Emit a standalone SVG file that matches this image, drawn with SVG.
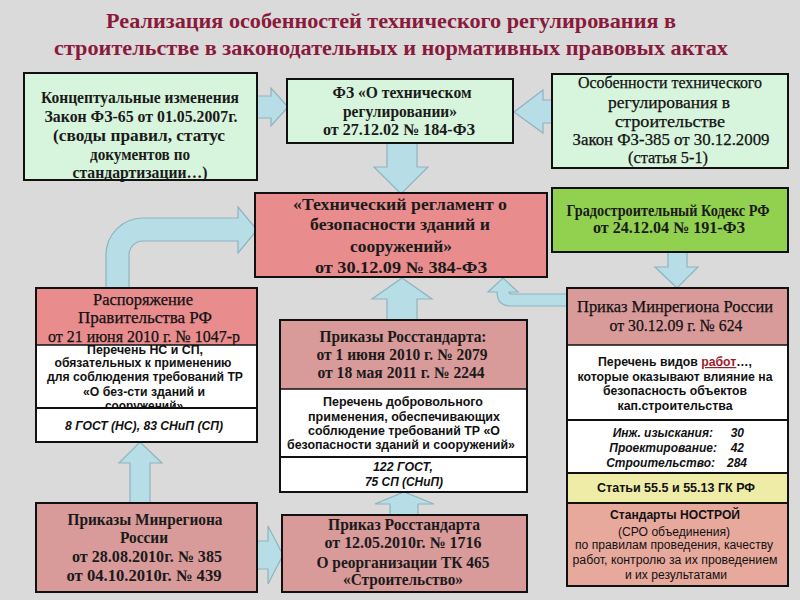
<svg xmlns="http://www.w3.org/2000/svg" width="800" height="600" viewBox="0 0 800 600">
<defs>
<style>
.bg{fill:#dadada}
.box{stroke:#111;stroke-width:2}
.arrow{fill:#b7dde6;stroke:#8fb3bf;stroke-width:1.2}
.mint{fill:#d7f4dc}
.pink{fill:#e88c8e}
.rose{fill:#d99a9a}
.green{fill:#92d050}
.white{fill:#ffffff}
.yellow{fill:#eeeca6}
.salmon{fill:#e8a99d}
.title{font-family:"Liberation Serif",serif;font-weight:bold;font-size:21px;fill:#8a1a3c;text-anchor:middle}
.sb{font-family:"Liberation Serif",serif;font-weight:bold;font-size:16px;fill:#1a1a1a;text-anchor:middle}
.sr{font-family:"Liberation Serif",serif;font-size:17px;fill:#111;stroke:#111;stroke-width:0.25;text-anchor:middle}
.nb{font-family:"Liberation Sans",sans-serif;font-weight:bold;font-size:12px;fill:#111;text-anchor:middle}
.ni{font-family:"Liberation Sans",sans-serif;font-weight:bold;font-style:italic;font-size:12px;fill:#111;text-anchor:middle}
.nr{font-family:"Liberation Sans",sans-serif;font-size:12px;fill:#111;text-anchor:middle}
</style>
<clipPath id="clipLH"><rect x="36" y="288" width="221" height="57"/></clipPath>
<clipPath id="clipLW"><rect x="36" y="345" width="221" height="63"/></clipPath>
</defs>
<rect class="bg" x="0" y="0" width="800" height="600"/>

<g id="title">
<text class="title" x="391" y="28" textLength="570" lengthAdjust="spacingAndGlyphs">Реализация особенностей технического регулирования в</text>
<text class="title" x="391" y="55" textLength="674" lengthAdjust="spacingAndGlyphs">строительстве в законодательных и нормативных правовых актах</text>
</g>

<g id="connectors">
<path class="arrow" d="M257,96 L271,96 L271,88 L288,107 L271,126 L271,118 L257,118 Z"/>
<path class="arrow" d="M552,100 L543,100 L543,90 L514,112 L543,133 L543,123 L552,123 Z"/>
<path class="arrow" d="M387,143 L417,143 L417,167 L428,167 L401,194 L374,167 L387,167 Z"/>
<path class="arrow" d="M668,252 L687,252 L687,267 L698,267 L677,288 L655,267 L668,267 Z"/>
<path class="arrow" d="M106,288 L106,255 A37,37 0 0 1 143,218 L238,218 L238,207 L257,230 L238,253 L238,241 L143,241 A14,14 0 0 0 129,255 L129,288 Z"/>
<path class="arrow" d="M387,320 L387,299 L372,299 L402,278 L432,299 L417,299 L417,320 Z"/>
<path class="arrow" d="M567,294 L512,294 Q509,294 509,292 L518,292 L503,278 L488,292 L497,292 Q497,306 511,306 L567,306 Z"/>
<path class="arrow" d="M130,503 L130,463 L119,463 L140,442 L162,463 L150,463 L150,503 Z"/>
<path class="arrow" d="M257,541 L268,541 L268,526 L283,555 L268,584 L268,569 L257,569 Z"/>
<path class="arrow" d="M390,515 L390,504 L375,504 L404,492 L434,504 L418,504 L418,515 Z"/>
</g>

<g id="node-concept">
<rect class="box mint" x="24" y="73" width="233" height="107"/>
<text class="sb" x="140" y="103" textLength="198" lengthAdjust="spacingAndGlyphs">Концептуальные изменения</text>
<text class="sb" x="141" y="122" textLength="193" lengthAdjust="spacingAndGlyphs">Закон ФЗ-65 от 01.05.2007г.</text>
<text class="sb" x="139" y="141" textLength="172" lengthAdjust="spacingAndGlyphs">(своды правил, статус</text>
<text class="sb" x="140" y="160" textLength="100" lengthAdjust="spacingAndGlyphs">документов по</text>
<text class="sb" x="140" y="178" textLength="135" lengthAdjust="spacingAndGlyphs">стандартизации…)</text>
</g>

<g id="node-fz184">
<rect class="box mint" x="287" y="79" width="226" height="64"/>
<text class="sb" x="402" y="98" textLength="139" lengthAdjust="spacingAndGlyphs">ФЗ «О техническом</text>
<text class="sb" x="400" y="117" textLength="114" lengthAdjust="spacingAndGlyphs">регулировании»</text>
<text class="sb" x="399" y="135" textLength="152" lengthAdjust="spacingAndGlyphs">от  27.12.02 № 184-ФЗ</text>
</g>

<g id="node-fz385">
<rect class="box mint" x="552" y="74" width="236" height="94"/>
<text class="sr" x="670" y="88" textLength="184" lengthAdjust="spacingAndGlyphs">Особенности технического</text>
<text class="sr" x="669" y="108" textLength="122" lengthAdjust="spacingAndGlyphs">регулирования в</text>
<text class="sr" x="670" y="127" textLength="110" lengthAdjust="spacingAndGlyphs">строительстве</text>
<text class="sr" x="671" y="145" textLength="197" lengthAdjust="spacingAndGlyphs">Закон ФЗ-385 от 30.12.2009</text>
<text class="sr" x="668" y="163" textLength="80" lengthAdjust="spacingAndGlyphs">(статья 5-1)</text>
</g>

<g id="node-tr384">
<rect class="box pink" x="255" y="193" width="292" height="84"/>
<text class="sb" x="400" y="210" font-size="18" textLength="214" lengthAdjust="spacingAndGlyphs">«Технический регламент о</text>
<text class="sb" x="400" y="230" font-size="18" textLength="180" lengthAdjust="spacingAndGlyphs">безопасности зданий и</text>
<text class="sb" x="401" y="252" font-size="18" textLength="102" lengthAdjust="spacingAndGlyphs">сооружений»</text>
<text class="sb" x="401" y="273" font-size="20" textLength="172" lengthAdjust="spacingAndGlyphs">от  30.12.09 № 384-ФЗ</text>
</g>

<g id="node-grk">
<rect class="box green" x="552" y="188" width="236" height="64"/>
<text class="sb" x="668" y="216" font-size="14" textLength="203" lengthAdjust="spacingAndGlyphs">Градостроительный Кодекс РФ</text>
<text class="sb" x="669" y="233" font-size="14" textLength="152" lengthAdjust="spacingAndGlyphs">от  24.12.04 № 191-ФЗ</text>
</g>

<g id="node-rasp1047">
<rect class="pink" x="36" y="288" width="221" height="57"/>
<rect class="white" x="36" y="345" width="221" height="97"/>
<g clip-path="url(#clipLH)">
<text class="sr" x="143" y="305" textLength="100" lengthAdjust="spacingAndGlyphs">Распоряжение</text>
<text class="sr" x="145" y="323" textLength="134" lengthAdjust="spacingAndGlyphs">Правительства РФ</text>
<text class="sr" x="144" y="342" textLength="192" lengthAdjust="spacingAndGlyphs">от 21 июня 2010 г. № 1047-р</text>
</g>
<g clip-path="url(#clipLW)">
<text class="nb" x="145" y="354" textLength="116" lengthAdjust="spacingAndGlyphs">Перечень НС и СП,</text>
<text class="nb" x="143" y="367" textLength="177" lengthAdjust="spacingAndGlyphs">обязательных к применению</text>
<text class="nb" x="145" y="381" textLength="196" lengthAdjust="spacingAndGlyphs">для соблюдения требований ТР</text>
<text class="nb" x="144" y="396" textLength="122" lengthAdjust="spacingAndGlyphs">«О без-сти зданий и</text>
<text class="nb" x="144" y="410" textLength="78" lengthAdjust="spacingAndGlyphs">сооружений»</text>
</g>
<line x1="36" y1="345" x2="257" y2="345" stroke="#111" stroke-width="1.5"/>
<line x1="36" y1="408" x2="257" y2="408" stroke="#111" stroke-width="2"/>
<text class="ni" x="144" y="430" font-size="11.5" textLength="158" lengthAdjust="spacingAndGlyphs">8 ГОСТ (НС), 83 СНиП (СП)</text>
<rect x="36" y="288" width="221" height="154" fill="none" stroke="#111" stroke-width="2"/>
</g>

<g id="node-rst">
<rect class="rose" x="280" y="320" width="247" height="69"/>
<rect class="white" x="280" y="389" width="247" height="103"/>
<text class="sb" x="403" y="342" textLength="167" lengthAdjust="spacingAndGlyphs">Приказы Росстандарта:</text>
<text class="sb" x="402" y="360" textLength="171" lengthAdjust="spacingAndGlyphs">от 1 июня 2010 г. № 2079</text>
<text class="sb" x="401" y="378" textLength="167" lengthAdjust="spacingAndGlyphs">от 18 мая 2011 г. № 2244</text>
<text class="nb" x="403" y="406" textLength="160" lengthAdjust="spacingAndGlyphs">Перечень добровольного</text>
<text class="nb" x="404" y="421" textLength="192" lengthAdjust="spacingAndGlyphs">применения,  обеспечивающих</text>
<text class="nb" x="404" y="435" textLength="192" lengthAdjust="spacingAndGlyphs">соблюдение требований ТР «О</text>
<text class="nb" x="401" y="449" textLength="228" lengthAdjust="spacingAndGlyphs">безопасности зданий и сооружений»</text>
<text class="ni" x="403" y="471" textLength="60" lengthAdjust="spacingAndGlyphs">122 ГОСТ,</text>
<text class="ni" x="404" y="486" textLength="78" lengthAdjust="spacingAndGlyphs">75 СП (СНиП)</text>
<line x1="280" y1="389" x2="527" y2="389" stroke="#111" stroke-width="1.5"/>
<line x1="280" y1="457" x2="527" y2="457" stroke="#111" stroke-width="2"/>
<rect x="280" y="320" width="247" height="172" fill="none" stroke="#111" stroke-width="2"/>
</g>

<g id="node-mr624">
<rect class="rose" x="567" y="288" width="221" height="57"/>
<rect class="white" x="567" y="345" width="221" height="128"/>
<rect class="yellow" x="567" y="473" width="221" height="30"/>
<rect class="salmon" x="567" y="503" width="221" height="83"/>
<text class="sr" x="675" y="312" font-size="18" textLength="196" lengthAdjust="spacingAndGlyphs">Приказ Минрегиона России</text>
<text class="sr" x="676" y="331" font-size="18" textLength="133" lengthAdjust="spacingAndGlyphs">от 30.12.09 г. № 624</text>
<text class="nb" x="675" y="366" textLength="154" lengthAdjust="spacingAndGlyphs">Перечень видов <tspan fill="#9b1c2c" text-decoration="underline">работ</tspan>…,</text>
<text class="nb" x="675" y="381" textLength="195" lengthAdjust="spacingAndGlyphs">которые оказывают влияние на</text>
<text class="nb" x="675" y="395" textLength="144" lengthAdjust="spacingAndGlyphs">безопасность объектов</text>
<text class="nb" x="675" y="410" textLength="115" lengthAdjust="spacingAndGlyphs">кап.строительства</text>
<g class="ni" style="text-anchor:end">
<text x="713" y="437">Инж. изыскания:</text>
<text x="744" y="437">30</text>
<text x="717" y="452">Проектирование:</text>
<text x="744" y="452">42</text>
<text x="715" y="467">Строительство:</text>
<text x="747" y="467">284</text>
</g>
<text class="nb" x="676" y="492" textLength="158" lengthAdjust="spacingAndGlyphs">Статьи  55.5 и 55.13 ГК РФ</text>
<text class="nb" x="675" y="519" textLength="130" lengthAdjust="spacingAndGlyphs">Стандарты НОСТРОЙ</text>
<text class="nr" x="674" y="536" textLength="112" lengthAdjust="spacingAndGlyphs">(СРО объединения)</text>
<text class="nr" x="674" y="549" textLength="198" lengthAdjust="spacingAndGlyphs">по правилам проведения, качеству</text>
<text class="nr" x="675" y="564" textLength="205" lengthAdjust="spacingAndGlyphs">работ, контролю за их проведением</text>
<text class="nr" x="676" y="579" textLength="102" lengthAdjust="spacingAndGlyphs">и их результатами</text>
<line x1="567" y1="345" x2="788" y2="345" stroke="#111" stroke-width="1.5"/>
<line x1="567" y1="420" x2="788" y2="420" stroke="#111" stroke-width="2"/>
<line x1="567" y1="473" x2="788" y2="473" stroke="#111" stroke-width="2"/>
<line x1="567" y1="503" x2="788" y2="503" stroke="#111" stroke-width="2"/>
<rect x="567" y="288" width="221" height="298" fill="none" stroke="#111" stroke-width="2"/>
</g>

<g id="node-mr385">
<rect class="box rose" x="36" y="503" width="221" height="89"/>
<text class="sb" x="145" y="525" textLength="155" lengthAdjust="spacingAndGlyphs">Приказы Минрегиона</text>
<text class="sb" x="144" y="543" textLength="48" lengthAdjust="spacingAndGlyphs">России</text>
<text class="sb" x="147" y="562" textLength="150" lengthAdjust="spacingAndGlyphs">от 28.08.2010г.  № 385</text>
<text class="sb" x="144" y="581" textLength="155" lengthAdjust="spacingAndGlyphs">от  04.10.2010г.  № 439</text>
</g>

<g id="node-rst1716">
<rect class="box rose" x="282" y="515" width="245" height="77"/>
<text class="sb" x="404" y="530" textLength="152" lengthAdjust="spacingAndGlyphs">Приказ Росстандарта</text>
<text class="sb" x="403" y="548" textLength="157" lengthAdjust="spacingAndGlyphs">от 12.05.2010г.  № 1716</text>
<text class="sb" x="403" y="568" textLength="173" lengthAdjust="spacingAndGlyphs">О реорганизации ТК 465</text>
<text class="sb" x="403" y="585" textLength="120" lengthAdjust="spacingAndGlyphs">«Строительство»</text>
</g>
</svg>
